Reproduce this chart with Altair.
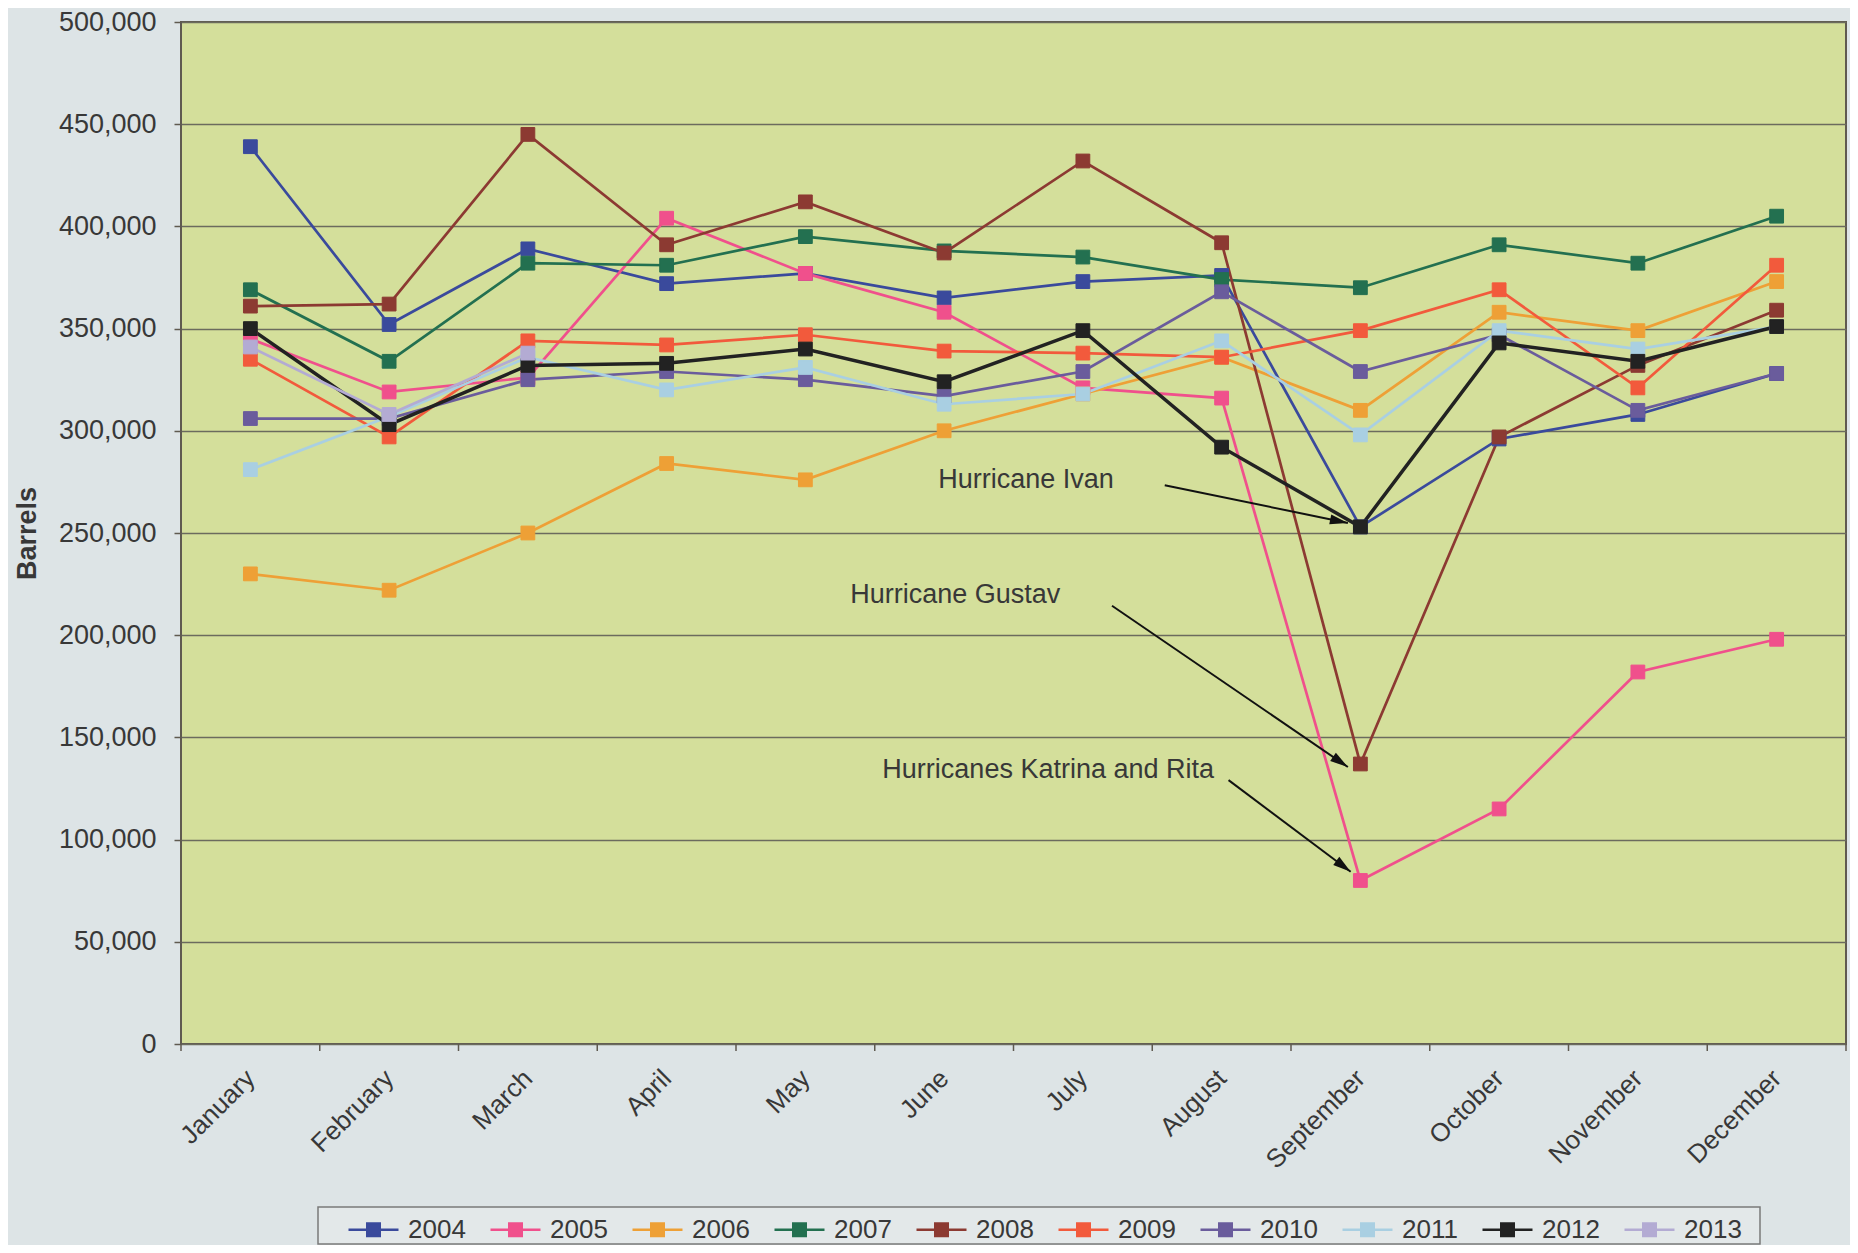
import math
import altair as alt
import pandas as pd

# ---------------- data ----------------
months = ["January", "February", "March", "April", "May", "June", "July",
          "August", "September", "October", "November", "December"]
years = ["2004", "2005", "2006", "2007", "2008", "2009", "2010", "2011", "2012", "2013"]
colors = ["#3a4a9c", "#f0508c", "#eea036", "#237050", "#8c3a32", "#f25a3c",
          "#6a5c9c", "#a9cfe2", "#222222", "#b3abd3"]

# thousands of barrels
v2004 = [439, 352, 389, 372, 377, 365, 373, 376, 253, 296, 308, 328]
v2005 = [345, 319, 326, 404, 377, 358, 321, 316, 80, 115, 182, 198]
v2006 = [230, 222, 250, 284, 276, 300, 318, 336, 310, 358, 349, 373]
v2007 = [369, 334, 382, 381, 395, 388, 385, 374, 370, 391, 382, 405]
v2008 = [361, 362, 445, 391, 412, 387, 432, 392, 137, 297, 332, 359]
v2009 = [335, 297, 344, 342, 347, 339, 338, 336, 349, 369, 321, 381]
v2010 = [306, 306, 325, 329, 325, 317, 329, 368, 329, 347, 310, 328]
v2011 = [281, 307, 336, 320, 331, 313, 318, 344, 298, 349, 340, 351]
v2012 = [350, 303, 332, 333, 340, 324, 349, 292, 253, 343, 334, 351]
v2013 = [341, 308, 338]

series = [v2004, v2005, v2006, v2007, v2008, v2009, v2010, v2011, v2012, v2013]

ann_text = ["Hurricane Ivan", "Hurricane Gustav", "Hurricanes Katrina and Rita"]
ann_x = [5.59, 5.08, 5.75]
ann_y = [276000, 219800, 134000]
arr_x0 = [6.59, 6.21, 7.05]
arr_y0 = [273400, 214400, 129100]
arr_x1 = [7.91, 7.91, 7.93]
arr_y1 = [254900, 135500, 84300]

# ---------------- layout ----------------
W, H = 1665, 1022
FONT = "Liberation Sans"
TXT = "#383838"
FRAME = "#5f5a50"
GRID = "#6b6b5e"
PLOT_BG = "#d4df9b"
PAGE_BG = "#dde4e6"

rows = []
for yr, vals in zip(years, series):
    for i, v in enumerate(vals):
        rows.append({"year": yr, "m": i, "v": v * 1000})
df = pd.DataFrame(rows)

bdf = pd.DataFrame({"b": [i - 0.5 for i in range(len(months) + 1)]})

px_x = W / 12.0
px_y = H / 500000.0
angles = []
for x0, y0, x1, y1 in zip(arr_x0, arr_y0, arr_x1, arr_y1):
    dx = (x1 - x0) * px_x
    dy = -(y1 - y0) * px_y
    angles.append(math.degrees(math.atan2(dx, -dy)))
adf = pd.DataFrame({"t": ann_text, "tx": ann_x, "ty": ann_y,
                    "x0": arr_x0, "y0": arr_y0, "x1": arr_x1, "y1": arr_y1,
                    "ang": angles})

xs = alt.Scale(domain=[-0.5, 11.5], nice=False, zero=False)
ys = alt.Scale(domain=[0, 500000], nice=False)
cs = alt.Scale(domain=years, range=colors)

month_js = "[" + ",".join("'%s'" % m for m in months) + "]"

legend = alt.Legend(
    title=None, orient="none", legendX=166, legendY=1181, direction="horizontal",
    symbolType="M-1,0H1M-0.25,-0.25H0.25V0.25H-0.25Z", symbolSize=2500,
    symbolStrokeWidth=2.5, labelFontSize=26, labelFont=FONT, labelColor=TXT,
    labelOffset=8, columnPadding=19, zindex=1,
)

x_axis = alt.Axis(values=list(range(12)), labelExpr=month_js + "[datum.value]",
                  ticks=False, domain=False, grid=False, title=None,
                  labelAngle=-45, labelAlign="right", labelBaseline="middle",
                  labelPadding=30, labelFontSize=26, labelFont=FONT, labelColor=TXT)
y_axis = alt.Axis(values=list(range(0, 500001, 50000)), format=",.0f", grid=True,
                  gridColor=GRID, gridWidth=1.5, tickSize=7, tickColor=FRAME,
                  tickWidth=1.5, domain=False, labelFontSize=27, labelFont=FONT,
                  labelColor=TXT, labelPadding=18, title="Barrels",
                  titleFontSize=27, titleFont=FONT, titleFontWeight="bold",
                  titleColor=TXT, titleX=-154, titleY=H / 2, titleAngle=270,
                  titleBaseline="middle", titleAlign="center")

box = alt.Chart(pd.DataFrame({"a": [0]})).mark_rect(
    fill="#e3e8e9", stroke="#7a7a7a", strokeWidth=1.5
).encode(x=alt.value(137), x2=alt.value(1579), y=alt.value(1185), y2=alt.value(1222))

base = alt.Chart(df)
lines = base.mark_line().encode(
    x=alt.X("m:Q", scale=xs, axis=x_axis),
    y=alt.Y("v:Q", scale=ys, axis=y_axis),
    stroke=alt.Stroke("year:N", scale=cs, legend=legend),
    strokeWidth=alt.condition("datum.year == '2012'", alt.value(3.5), alt.value(2.7)),
)
points = base.mark_point(shape="square", filled=True, size=190, opacity=1, strokeWidth=1).encode(
    x=alt.X("m:Q", scale=xs),
    y=alt.Y("v:Q", scale=ys),
    fill=alt.Fill("year:N", scale=cs, legend=legend),
    stroke=alt.Stroke("year:N", scale=cs, legend=legend),
)

ticks = alt.Chart(bdf).mark_rule(color=FRAME, strokeWidth=1.5).encode(
    x=alt.X("b:Q", scale=xs), y=alt.value(H), y2=alt.value(H + 7)
)

arrows = alt.Chart(adf).mark_rule(color="#111111", strokeWidth=2).encode(
    x=alt.X("x0:Q", scale=xs), y=alt.Y("y0:Q", scale=ys), x2="x1:Q", y2="y1:Q"
)
heads = alt.Chart(adf).mark_point(
    shape="M0,0L0.28,1L-0.28,1Z", filled=True, color="#111111", size=1296, opacity=1
).encode(
    x=alt.X("x1:Q", scale=xs), y=alt.Y("y1:Q", scale=ys),
    angle=alt.Angle("ang:Q", scale=None),
)
texts = alt.Chart(adf).mark_text(
    fontSize=27, font=FONT, color=TXT, align="center", baseline="middle"
).encode(x=alt.X("tx:Q", scale=xs), y=alt.Y("ty:Q", scale=ys), text="t:N")

chart = alt.layer(box, lines, points, ticks, arrows, heads, texts).properties(
    width=W, height=H,
    autosize=alt.AutoSizeParams(type="none"),
    padding={"left": 173, "top": 14, "right": 4, "bottom": 201},
    background=PAGE_BG,
).configure(font=FONT).configure_view(
    fill=PLOT_BG, stroke=FRAME, strokeWidth=2
)

chart.save("out.html", embed_options={"renderer": "svg", "actions": False})
